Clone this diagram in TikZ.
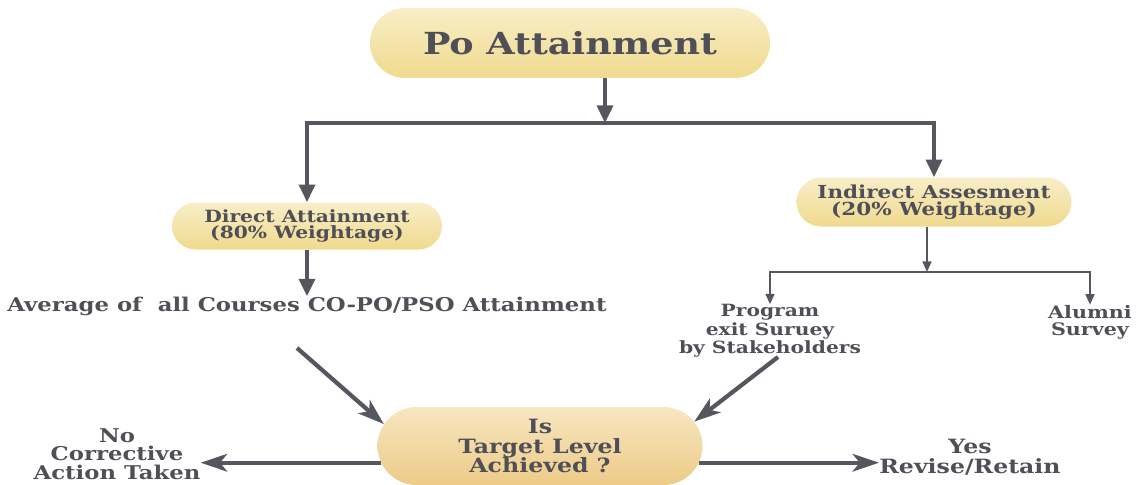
\documentclass[tikz,border=0pt]{standalone}
\usepackage{fontspec}
\setmainfont{DejaVu Serif}[FakeStretch=1.2]
\usetikzlibrary{shapes.misc, positioning}
\usetikzlibrary{arrows.meta}
\definecolor{txtgray}{HTML}{4F4F57}
\definecolor{arrgray}{HTML}{56565E}
\definecolor{pilltop}{HTML}{F8EEC8}
\definecolor{pillbot}{HTML}{F0DA8E}
\definecolor{peachtop}{HTML}{F7E6C0}
\definecolor{peachbot}{HTML}{EDCB88}
\tikzset{
    pill/.style={rounded rectangle,top color=pilltop,bottom color=pillbot,draw=none,text=txtgray,align=center,inner sep=0pt},
    lbl/.style={text=txtgray,align=center,inner sep=0pt},
    bigarr/.style={-{Triangle[length=10pt,width=9pt]},line width=2.2pt,color=arrgray},
    smallarr/.style={-{Triangle[length=6pt,width=5pt]},line width=1.2pt,color=arrgray},
    diagarr/.style={-{Stealth[length=15pt,width=10pt,inset=4pt]},line width=2.4pt,color=arrgray},
}
\begin{document}
\begin{tikzpicture}[x=0.02cm,y=-0.02cm]
    \useasboundingbox (0,0) rectangle (1142,484);
    % boxes
    \node[pill,at={(570,43)},minimum width=8cm,minimum height=1.4cm,font=\bfseries\fontsize{17.3}{18}\selectfont] (po) {Po Attainment};
    \node[pill,at={(307,226)},minimum width=5.4cm,minimum height=0.94cm,font=\bfseries\fontsize{9.6}{8.8}\selectfont] (direct) {Direct Attainment\\(80\% Weightage)};
    \node[pill,at={(934,202)},minimum width=5.5cm,minimum height=0.98cm,font=\bfseries\fontsize{10.2}{9.4}\selectfont] (indirect) {Indirect Assesment\\(20\% Weightage)};
    \node[pill,at={(540,446)},minimum width=6.5cm,minimum height=1.56cm,top color=peachtop,bottom color=peachbot,font=\bfseries\fontsize{11.2}{11.3}\selectfont] (target) {Is\\Target Level\\Achieved ?};
    % plain texts
    \node[lbl,at={(307,306)},font=\bfseries\fontsize{10.8}{9}\selectfont] (avg) {Average of\ \ all Courses CO-PO/PSO Attainment};
    \node[lbl,at={(770,331)},font=\bfseries\fontsize{9.6}{9.2}\selectfont] (prog) {Program\\exit Suruey\\by Stakeholders};
    \node[lbl,at={(1090,322)},font=\bfseries\fontsize{9.8}{9.6}\selectfont] (alum) {Alumni\\Survey};
    \node[lbl,at={(117,454)},font=\bfseries\fontsize{10.8}{10.5}\selectfont] (no) {No\\Corrective\\Action Taken};
    \node[lbl,at={(970,457)},font=\bfseries\fontsize{11.2}{11.3}\selectfont] (yes) {Yes\\Revise/Retain};
    \coordinate (split) at (605,123);
    \coordinate (fork) at (927,272);
    \coordinate (fromavg) at (297,348);
    \coordinate (fromprog) at (778,357);
    % arrows
    \draw[bigarr] (po.south -| split) -- (split);
    \draw[bigarr] (split) -| (direct.north);
    \draw[bigarr] (split) -| (indirect.north);
    \draw[bigarr] (direct.south) -- (avg.north);
    \draw[smallarr] (indirect.south -| fork) -- (fork);
    \draw[smallarr] (fork) -| (prog.north);
    \draw[smallarr] (fork) -| (alum.north);
    \draw[diagarr] (fromavg) -- (target.172);
    \draw[diagarr] (fromprog) -- (target.9);
    \draw[diagarr] (target.186) -- (target.186 -| no.east);
    \draw[diagarr] (target.354) -- (target.354 -| yes.west);
\end{tikzpicture}
\end{document}
